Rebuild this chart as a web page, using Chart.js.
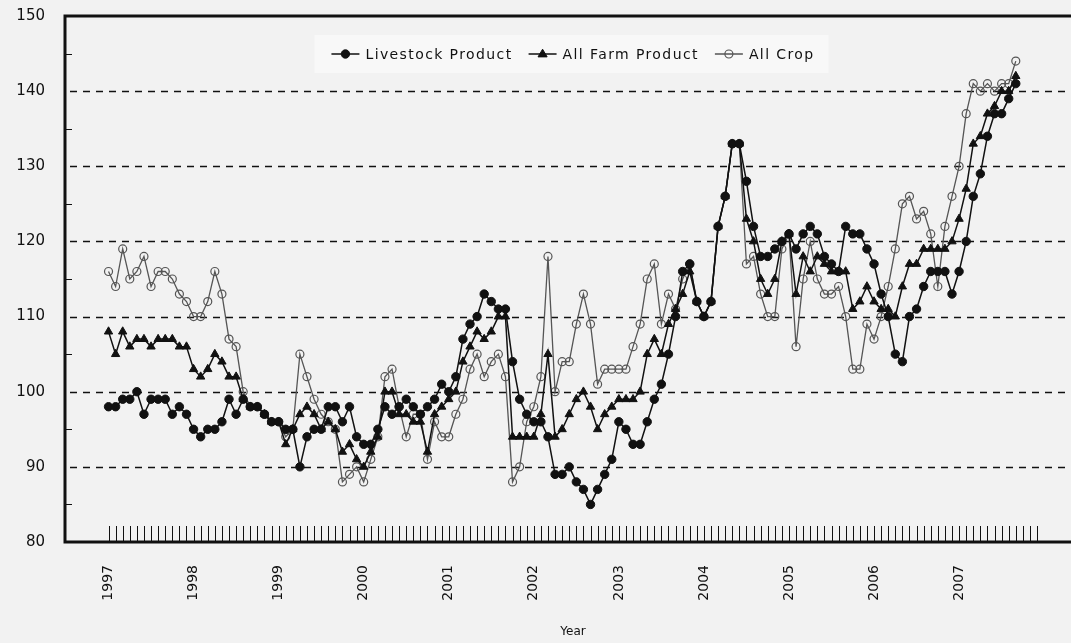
<!DOCTYPE html>
<html>
<head>
<meta charset="utf-8">
<script src="https://cdn.jsdelivr.net/npm/chart.js@4.4.0/dist/chart.umd.min.js"></script>
<style>
  html, body { margin: 0; padding: 0; background: #f2f2f2; overflow: hidden; }
  #wrap { width: 1100px; height: 643px; }
</style>
</head>
<body>
<div id="wrap"><canvas id="price-chart" width="1100" height="643"></canvas></div>
<script>
// monthly index, Jan 1997 .. Sep 2007
const years = [1997, 1998, 1999, 2000, 2001, 2002, 2003, 2004, 2005, 2006, 2007];
const tickMonths = 132; // Jan 1997 .. Dec 2007
const gridValues = [90, 100, 110, 120, 130, 140];

const livestock = [
  98, 98, 99, 99, 100, 97, 99, 99, 99, 97, 98, 97,
  95, 94, 95, 95, 96, 99, 97, 99, 98, 98, 97, 96,
  96, 95, 95, 90, 94, 95, 95, 98, 98, 96, 98, 94,
  93, 93, 95, 98, 97, 98, 99, 98, 97, 98, 99, 101,
  100, 102, 107, 109, 110, 113, 112, 111, 111, 104, 99, 97,
  96, 96, 94, 89, 89, 90, 88, 87, 85, 87, 89, 91,
  96, 95, 93, 93, 96, 99, 101, 105, 110, 116, 117, 112,
  110, 112, 122, 126, 133, 133, 128, 122, 118, 118, 119, 120,
  121, 119, 121, 122, 121, 118, 117, 116, 122, 121, 121, 119,
  117, 113, 110, 105, 104, 110, 111, 114, 116, 116, 116, 113,
  116, 120, 126, 129, 134, 137, 137, 139, 141
];

const allFarm = [
  108, 105, 108, 106, 107, 107, 106, 107, 107, 107, 106, 106,
  103, 102, 103, 105, 104, 102, 102, 99, 98, 98, 97, 96,
  96, 93, 95, 97, 98, 97, 95, 96, 95, 92, 93, 91,
  90, 92, 94, 100, 100, 97, 97, 96, 96, 92, 97, 98,
  99, 100, 104, 106, 108, 107, 108, 110, 110, 94, 94, 94,
  94, 97, 105, 94, 95, 97, 99, 100, 98, 95, 97, 98,
  99, 99, 99, 100, 105, 107, 105, 109, 111, 113, 116, 112,
  110, 112, 122, 126, 133, 133, 123, 120, 115, 113, 115, 120,
  121, 113, 118, 116, 118, 117, 116, 116, 116, 111, 112, 114,
  112, 111, 111, 110, 114, 117, 117, 119, 119, 119, 119, 120,
  123, 127, 133, 134, 137, 138, 140, 140, 142
];

const allCrop = [
  116, 114, 119, 115, 116, 118, 114, 116, 116, 115, 113, 112,
  110, 110, 112, 116, 113, 107, 106, 100, 98, 98, 97, 96,
  96, 94, 95, 105, 102, 99, 97, 96, 95, 88, 89, 90,
  88, 91, 94, 102, 103, 98, 94, 97, 97, 91, 96, 94,
  94, 97, 99, 103, 105, 102, 104, 105, 102, 88, 90, 96,
  98, 102, 118, 100, 104, 104, 109, 113, 109, 101, 103, 103,
  103, 103, 106, 109, 115, 117, 109, 113, 111, 115, 117, 112,
  110, 112, 122, 126, 133, 133, 117, 118, 113, 110, 110, 119,
  121, 106, 115, 120, 115, 113, 113, 114, 110, 103, 103, 109,
  107, 110, 114, 119, 125, 126, 123, 124, 121, 114, 122, 126,
  130, 137, 141, 140, 141, 140, 141, 141, 144
];

const seriesNames = ['Livestock Product', 'All Farm Product', 'All Crop'];

const FONT = "'DejaVu Sans', 'Liberation Sans', sans-serif";
Chart.defaults.font.family = FONT;
Chart.defaults.color = '#111';

const toPoints = (arr) => arr.map((v, i) => ({ x: i, y: v }));

// legend drawn inside the plot, centred near the top
const legendPlugin = {
  id: 'insideLegend',
  afterDraw(chart) {
    const { ctx } = chart;
    const cx = 573, cy = 54, markW = 28, gap = 6, itemGap = 16;
    ctx.save();
    ctx.font = '14px ' + FONT;
    if ('letterSpacing' in ctx) ctx.letterSpacing = '1.4px';
    const widths = chart.data.datasets.map(d => ctx.measureText(d.label).width);
    const total = widths.reduce((s, w) => s + markW + gap + w, 0) + itemGap * (widths.length - 1);
    let x = cx - total / 2;
    ctx.fillStyle = '#f8f8f8';
    ctx.fillRect(x - 17, cy - 19, total + 31, 38);
    chart.data.datasets.forEach((d, k) => {
      ctx.strokeStyle = d.borderColor;
      ctx.lineWidth = 1.5;
      ctx.beginPath(); ctx.moveTo(x, cy); ctx.lineTo(x + markW, cy); ctx.stroke();
      const mx = x + markW / 2, r = d.pointRadius;
      ctx.beginPath();
      if (d.pointStyle === 'triangle') {
        ctx.moveTo(mx, cy - r); ctx.lineTo(mx + r * 0.95, cy + r * 0.6); ctx.lineTo(mx - r * 0.95, cy + r * 0.6); ctx.closePath();
      } else {
        ctx.arc(mx, cy, r, 0, Math.PI * 2);
      }
      ctx.fillStyle = d.pointBackgroundColor; ctx.fill();
      ctx.lineWidth = d.pointBorderWidth; ctx.strokeStyle = d.pointBorderColor; ctx.stroke();
      ctx.fillStyle = '#111';
      ctx.textBaseline = 'middle';
      ctx.fillText(d.label, x + markW + gap, cy + 1);
      x += markW + gap + widths[k] + itemGap;
    });
    ctx.restore();
  }
};

const framePlugin = {
  id: 'frame',
  beforeDatasetsDraw(chart) {
    const { ctx, chartArea: a, scales: { x, y } } = chart;
    ctx.save();
    ctx.strokeStyle = '#111';
    ctx.lineWidth = 1.6;
    ctx.setLineDash([7, 6]);
    gridValues.forEach(v => {
      const py = Math.round(y.getPixelForValue(v)) + 0.5;
      ctx.beginPath(); ctx.moveTo(a.left + 5, py); ctx.lineTo(a.right, py); ctx.stroke();
    });
    ctx.setLineDash([]);
    // small inward ticks on the left axis
    ctx.lineWidth = 1;
    ctx.beginPath();
    for (let v = 85; v < 150; v += 10) {
      const py = Math.round(y.getPixelForValue(v)) + 0.5;
      ctx.moveTo(a.left, py); ctx.lineTo(a.left + 7, py);
    }
    // month ticks above the bottom axis
    x.ticks.forEach(t => {
      const px = Math.round(x.getPixelForValue(t.value)) + 0.5;
      ctx.moveTo(px, a.bottom - 16); ctx.lineTo(px, a.bottom);
    });
    ctx.stroke();
    // frame (top, left, bottom)
    ctx.lineWidth = 3;
    ctx.beginPath();
    ctx.moveTo(a.right + 20, a.top); ctx.lineTo(a.left, a.top);
    ctx.lineTo(a.left, a.bottom); ctx.lineTo(a.right + 20, a.bottom);
    ctx.stroke();
    ctx.restore();
  }
};

const ctx = document.getElementById('price-chart').getContext('2d');

const priceChart = new Chart(ctx, {
  type: 'line',
  data: {
    datasets: [
      {
        label: seriesNames[0],
        data: toPoints(livestock),
        borderColor: '#111',
        borderWidth: 1.5,
        pointStyle: 'circle',
        pointRadius: 4.2,
        pointBackgroundColor: '#111',
        pointBorderColor: '#111',
        pointBorderWidth: 1
      },
      {
        label: seriesNames[1],
        data: toPoints(allFarm),
        borderColor: '#111',
        borderWidth: 1.5,
        pointStyle: 'triangle',
        pointRadius: 4.8,
        pointBackgroundColor: '#111',
        pointBorderColor: '#111',
        pointBorderWidth: 1
      },
      {
        label: seriesNames[2],
        data: toPoints(allCrop),
        borderColor: '#555',
        borderWidth: 1.3,
        pointStyle: 'circle',
        pointRadius: 4,
        pointBackgroundColor: 'rgba(0,0,0,0)',
        pointBorderColor: '#555',
        pointBorderWidth: 1.2
      }
    ]
  },
  options: {
    responsive: false,
    animation: false,
    events: [],
    layout: { padding: { top: 16, right: 19, left: 0, bottom: 0 } },
    plugins: {
      tooltip: { enabled: false },
      legend: { display: false }
    },
    scales: {
      x: {
        type: 'linear',
        min: -6.14,
        max: 137.2,
        afterBuildTicks(scale) {
          scale.ticks = Array.from({ length: tickMonths }, (_, i) => ({ value: i }));
        },
        afterFit(scale) { scale.height = 101; },
        grid: { display: false, drawTicks: false },
        border: { display: false },
        ticks: {
          autoSkip: false,
          minRotation: 90,
          maxRotation: 90,
          padding: 23,
          color: '#111',
          font: { size: 14, family: FONT },
          callback: (v) => (v % 12 === 0 ? String(years[v / 12]) : '')
        },
        title: {
          display: true,
          text: 'Year',
          color: '#111',
          font: { size: 12, family: FONT },
          padding: { top: 4, bottom: 4 }
        }
      },
      y: {
        min: 80,
        max: 150,
        afterFit(scale) { scale.width = 65; },
        grid: { display: false, drawTicks: true, tickLength: 16 },
        border: { display: false },
        ticks: {
          stepSize: 10,
          padding: 4,
          color: '#111',
          font: { size: 15, family: FONT }
        }
      }
    }
  },
  plugins: [framePlugin, legendPlugin]
});
</script>
</body>
</html>
